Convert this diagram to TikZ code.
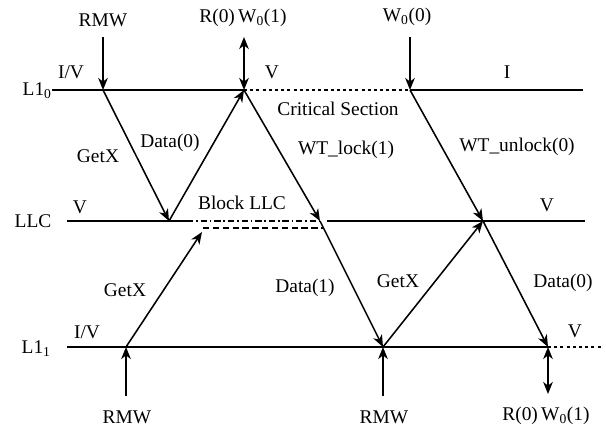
\documentclass[tikz,border=0pt]{standalone}
\usepackage{fontspec}
\setmainfont{Liberation Serif}
\usetikzlibrary{arrows.meta,positioning}
\tikzset{
  lbl/.style  = { inner sep=0pt, font=\fontsize{13.8}{16}\selectfont },
  lvl/.style  = { draw, line width=1.1pt },
  msg/.style  = { draw, line width=1.1pt, -{Stealth[length=3mm,width=2.4mm,inset=0.9mm]} },
  rw/.style   = { draw, line width=1.1pt, {Stealth[length=3mm,width=2.4mm,inset=0.9mm]}-{Stealth[length=3mm,width=2.4mm,inset=0.9mm]} },
  crit/.style = { draw, line width=1pt, dash pattern=on 2.2pt off 2.2pt },
  blk/.style  = { draw, line width=1pt, dash pattern=on 4.5pt off 2pt on 1.2pt off 2pt },
  blkd/.style = { draw, line width=1pt, dash pattern=on 4.5pt off 2.5pt }
}
\begin{document}
\begin{tikzpicture}[x=0.025cm,y=-0.025cm]
    \useasboundingbox (0,0) rectangle (606,429);
    % L1_0
    \node[lbl, anchor=base east] (n0) at (52,95) {L1\textsubscript{0}};
    \coordinate (a0) at (52,90);
    \coordinate (a1) at (103,90);
    \coordinate (a2) at (244,90);
    \coordinate (a3) at (410,90);
    \coordinate (a4) at (583,90);
    % LLC
    \node[lbl] (n1) at (33,221) {LLC};
    \coordinate (b0) at (67,221);
    \coordinate (b1) at (169,221);
    \coordinate (b2) at (187,221);
    \coordinate (b3) at (320,221);
    \coordinate (b4) at (327,221);
    \coordinate (b5) at (483,221);
    \coordinate (b6) at (585,221);
    \coordinate (d0) at (203,228);
    \coordinate (d1) at (323,228);
    \coordinate (d2) at (202,232);
    % L1_1
    \node[lbl, anchor=base east] (n2) at (51,353) {L1\textsubscript{1}};
    \coordinate (c0) at (67,347);
    \coordinate (c1) at (126,347);
    \coordinate (c2) at (383,347);
    \coordinate (c3) at (548,347);
    \coordinate (c4) at (601,347);
    % free ends of the requests
    \coordinate (t1) at (103,37);
    \coordinate (t2) at (244,37);
    \coordinate (t3) at (410,37);
    \coordinate (u1) at (126,396);
    \coordinate (u2) at (383,396);
    \coordinate (u3) at (548,394);

    \path[lvl] (a0) -- (a2);
    \path[crit] (a2) -- (a3);
    \path[lvl] (a3) -- (a4);
    \path[lvl] (b0) -- (b2);
    \path[blk] (b2) -- (b3);
    \path[blkd] (d0) -- (d1);
    \path[lvl] (b4) -- (b6);
    \path[lvl] (c0) -- (c3);
    \path[crit] (c3) -- (c4);

    \path (t1) edge[msg] (a1);
    \path (t2) edge[rw] (a2);
    \path (t3) edge[msg] (a3);
    \path (u1) edge[msg] (c1);
    \path (u2) edge[msg] (c2);
    \path (u3) edge[rw] (c3);

    \path (a1) edge[msg] (b1);
    \path (b1) edge[msg] (a2);
    \path (a2) edge[msg] (b3);
    \path (b3) edge[msg] (c2);
    \path (c1) edge[msg] (d2);
    \path (c2) edge[msg] (b5);
    \path (a3) edge[msg] (b5);
    \path (b5) edge[msg] (c3);

    \node[lbl] (r0) at (103,20) {RMW};
    \node[lbl] (r1) at (243,18) {R(0)\,W\textsubscript{0}(1)};
    \node[lbl] (r2) at (407,17) {W\textsubscript{0}(0)};
    \node[lbl] (r3) at (127,417) {RMW};
    \node[lbl] (r4) at (384,417) {RMW};
    \node[lbl] (r5) at (546,416) {R(0)\,W\textsubscript{0}(1)};

    \node[lbl] (s0) at (71,72) {I/V};
    \node[lbl] (s1) at (272,72) {V};
    \node[lbl] (s2) at (507,72) {I};
    \node[lbl] (s3) at (80,207) {V};
    \node[lbl] (s4) at (547,205) {V};
    \node[lbl] (s5) at (87,332) {I/V};
    \node[lbl] (s6) at (575,331) {V};
    \node[lbl] (cs) at (338,109) {Critical Section};
    \node[lbl] (bl) at (242,203) {Block LLC};

    \node[lbl] (m0) at (98,156) {GetX};
    \node[lbl] (m1) at (170,143) {Data(0)};
    \node[lbl] (m2) at (346,150) {WT\_lock(1)};
    \node[lbl] (m3) at (517,147) {WT\_unlock(0)};
    \node[lbl] (m4) at (125,290) {GetX};
    \node[lbl] (m5) at (305,288) {Data(1)};
    \node[lbl] (m6) at (398,281) {GetX};
    \node[lbl] (m7) at (563,283) {Data(0)};
\end{tikzpicture}
\end{document}
